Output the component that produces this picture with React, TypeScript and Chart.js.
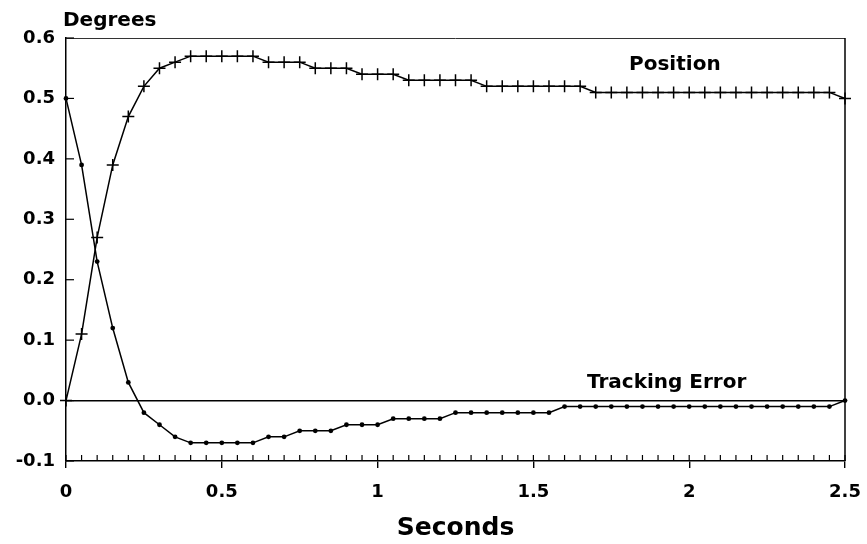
import React, { useEffect, useRef } from 'react';
import { Chart, registerables } from 'chart.js';

Chart.register(...registerables);

const seconds = [
  0, 0.05, 0.1, 0.15, 0.2, 0.25, 0.3, 0.35, 0.4, 0.45,
  0.5, 0.55, 0.6, 0.65, 0.7, 0.75, 0.8, 0.85, 0.9, 0.95,
  1.0, 1.05, 1.1, 1.15, 1.2, 1.25, 1.3, 1.35, 1.4, 1.45,
  1.5, 1.55, 1.6, 1.65, 1.7, 1.75, 1.8, 1.85, 1.9, 1.95,
  2.0, 2.05, 2.1, 2.15, 2.2, 2.25, 2.3, 2.35, 2.4, 2.45,
  2.5,
];

const position = [
  0, 0.11, 0.27, 0.39, 0.47, 0.52, 0.55, 0.56, 0.57, 0.57,
  0.57, 0.57, 0.57, 0.56, 0.56, 0.56, 0.55, 0.55, 0.55, 0.54,
  0.54, 0.54, 0.53, 0.53, 0.53, 0.53, 0.53, 0.52, 0.52, 0.52,
  0.52, 0.52, 0.52, 0.52, 0.51, 0.51, 0.51, 0.51, 0.51, 0.51,
  0.51, 0.51, 0.51, 0.51, 0.51, 0.51, 0.51, 0.51, 0.51, 0.51,
  0.5,
];

const trackingError = [
  0.5, 0.39, 0.23, 0.12, 0.03, -0.02, -0.04, -0.06, -0.07, -0.07,
  -0.07, -0.07, -0.07, -0.06, -0.06, -0.05, -0.05, -0.05, -0.04, -0.04,
  -0.04, -0.03, -0.03, -0.03, -0.03, -0.02, -0.02, -0.02, -0.02, -0.02,
  -0.02, -0.02, -0.01, -0.01, -0.01, -0.01, -0.01, -0.01, -0.01, -0.01,
  -0.01, -0.01, -0.01, -0.01, -0.01, -0.01, -0.01, -0.01, -0.01, -0.01,
  0.0,
];

const xMajorTicks = [0, 0.5, 1, 1.5, 2, 2.5];
const xTickLabels = ['0', '0.5', '1', '1.5', '2', '2.5'];

const yAxisTitle = 'Degrees';
const xAxisTitle = 'Seconds';
const positionLabel = 'Position';
const errorLabel = 'Tracking Error';

const FONT = '"DejaVu Sans", "Liberation Sans", Arial, sans-serif';

const majorIndex = (v: number) =>
  xMajorTicks.findIndex((m) => Math.abs(m - v) < 1e-6);

const decorPlugin = {
  id: 'decor',
  beforeDatasetsDraw(chart: any) {
    const { ctx, chartArea, scales } = chart;
    const { left, right, top, bottom } = chartArea;
    ctx.save();
    ctx.lineWidth = 1;
    ctx.strokeStyle = '#333';
    ctx.beginPath();
    ctx.moveTo(left, top + 0.5);
    ctx.lineTo(right, top + 0.5);
    ctx.stroke();
    ctx.strokeStyle = '#000';
    ctx.lineWidth = 1.5;
    ctx.beginPath();
    ctx.moveTo(right, top);
    ctx.lineTo(right, bottom);
    ctx.stroke();
    ctx.lineWidth = 1.2;
    scales.x.ticks.forEach((t: any) => {
      const px = scales.x.getPixelForValue(t.value);
      ctx.beginPath();
      ctx.moveTo(px, bottom);
      ctx.lineTo(px, bottom - 6);
      ctx.stroke();
    });
    scales.y.ticks.forEach((t: any) => {
      const py = scales.y.getPixelForValue(t.value);
      ctx.beginPath();
      ctx.moveTo(left, py);
      ctx.lineTo(left + 8, py);
      ctx.stroke();
    });
    ctx.restore();
  },
  afterDraw(chart: any) {
    const { ctx, chartArea, scales } = chart;
    ctx.save();
    ctx.fillStyle = '#000';
    ctx.font = `bold 20px ${FONT}`;
    ctx.textBaseline = 'alphabetic';
    ctx.textAlign = 'left';
    ctx.fillText(yAxisTitle, chartArea.left - 3, chartArea.top - 12);
    ctx.fillText(
      positionLabel,
      scales.x.getPixelForValue(1.807),
      scales.y.getPixelForValue(0.547)
    );
    ctx.fillText(
      errorLabel,
      scales.x.getPixelForValue(1.672),
      scales.y.getPixelForValue(0.02)
    );
    ctx.restore();
  },
};

export default function App() {
  const ref = useRef<HTMLCanvasElement | null>(null);

  useEffect(() => {
    if (!ref.current) return;
    const chart = new Chart(ref.current, {
      type: 'line',
      data: {
        datasets: [
          {
            label: positionLabel,
            data: seconds.map((s, i) => ({ x: s, y: position[i] })),
            borderColor: '#000',
            backgroundColor: '#000',
            borderWidth: 1.5,
            pointStyle: 'cross',
            pointRadius: 6,
            pointBorderWidth: 1.5,
            pointBorderColor: '#000',
            tension: 0,
            clip: false,
          },
          {
            label: errorLabel,
            data: seconds.map((s, i) => ({ x: s, y: trackingError[i] })),
            borderColor: '#000',
            backgroundColor: '#000',
            borderWidth: 1.5,
            pointStyle: 'circle',
            pointRadius: 2.4,
            pointBorderWidth: 0,
            pointBackgroundColor: '#000',
            tension: 0,
            clip: false,
          },
        ],
      },
      options: {
        animation: false,
        responsive: false,
        maintainAspectRatio: false,
        layout: { padding: { left: 0, right: 22, top: 38, bottom: 0 } },
        plugins: {
          legend: { display: false },
          tooltip: { enabled: false },
        },
        scales: {
          x: {
            type: 'linear',
            min: 0,
            max: 2.5,
            afterFit: (s: any) => {
              s.height = 83;
              s.paddingLeft = 0;
              s.paddingRight = 0;
            },
            border: { display: true, color: '#000', width: 1.5 },
            grid: {
              drawOnChartArea: false,
              drawTicks: true,
              tickLength: 7,
              lineWidth: 1.4,
              color: (c: any) =>
                c.tick && majorIndex(c.tick.value) >= 0 ? '#000' : 'rgba(0,0,0,0)',
            },
            ticks: {
              stepSize: 0.05,
              autoSkip: false,
              maxRotation: 0,
              padding: 14,
              color: '#000',
              font: { family: FONT, size: 18, weight: 'bold' },
              callback: (v: any) => {
                const i = majorIndex(Number(v));
                return i >= 0 ? xTickLabels[i] : '';
              },
            },
            title: {
              display: true,
              text: xAxisTitle,
              color: '#000',
              font: { family: FONT, size: 25, weight: 'bold' },
              padding: { top: 0, bottom: 1 },
            },
          },
          y: {
            type: 'linear',
            min: -0.1,
            max: 0.6,
            afterFit: (s: any) => {
              s.width = 66;
              s.paddingTop = 0;
              s.paddingBottom = 0;
            },
            border: { display: true, color: '#000', width: 1.5 },
            grid: {
              drawOnChartArea: true,
              drawTicks: false,
              lineWidth: 1.5,
              color: (c: any) =>
                c.tick && Math.abs(c.tick.value) < 1e-9 ? '#000' : 'rgba(0,0,0,0)',
            },
            ticks: {
              stepSize: 0.1,
              padding: 11,
              color: '#000',
              font: { family: FONT, size: 18, weight: 'bold' },
              callback: (v: any) => {
                const n = Number(v);
                return (Math.abs(n) < 1e-9 ? 0 : n).toFixed(1);
              },
            },
          },
        },
      },
      plugins: [decorPlugin],
    } as any);
    return () => chart.destroy();
  }, []);

  return (
    <div style={{ position: 'fixed', left: 0, top: 0, width: 867, height: 544, background: '#fff' }}>
      <canvas ref={ref} width={867} height={544} style={{ display: 'block' }} />
    </div>
  );
}
